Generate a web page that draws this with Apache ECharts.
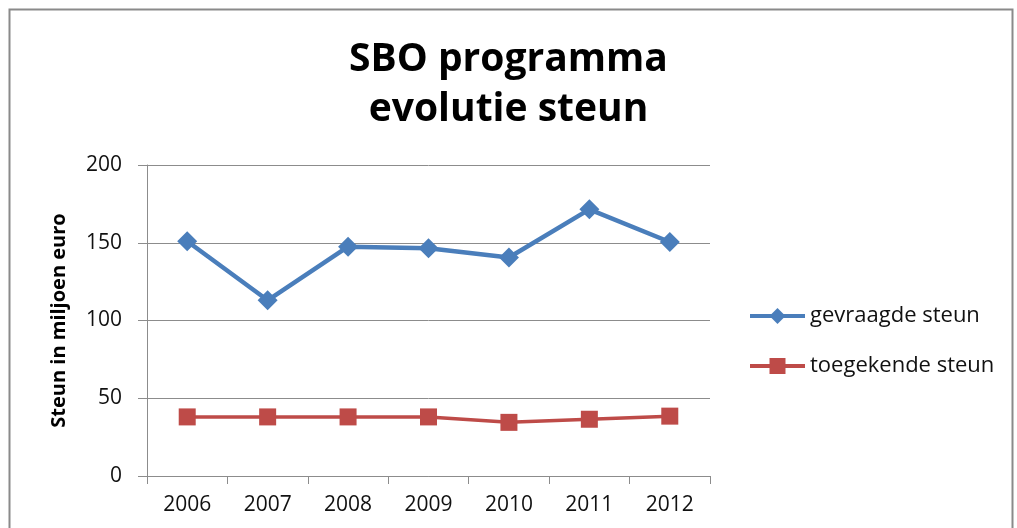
<!DOCTYPE html>
<html><head><meta charset="utf-8">
<script src="https://cdn.jsdelivr.net/npm/echarts@6/dist/echarts.min.js"></script>
<style>html,body{margin:0;padding:0;background:#fff}#c{width:1017px;height:528px}</style>
</head><body><div id="c"></div>
<script>
const categories = ['2006','2007','2008','2009','2010','2011','2012'];
const gevraagd = [151, 113, 147.5, 146.5, 140.5, 171.5, 150.5];
const toegekend = [38, 38, 38, 38, 34.5, 36.5, 38.5];
const seriesNames = ['gevraagde steun','toegekende steun'];
const titleLines = ['SBO programma','evolutie steun'];
const yAxisName = 'Steun in miljoen euro';

const font = '"Open Sans", Lato, sans-serif';
const chart = echarts.init(document.getElementById('c'));
chart.setOption({
  animation: false,
  graphic: [{
    type: 'rect', left: 7, top: 7, shape: {width: 1003, height: 530},
    style: {fill: 'none', stroke: '#8a8a8a', lineWidth: 2}, silent: true
  }],
  title: {
    text: titleLines.join('\n'), left: 'center', top: 30,
    textStyle: {fontFamily: font, fontSize: 39, fontWeight: 'bold', color: '#000', lineHeight: 50}
  },
  legend: {
    orient: 'vertical', left: 743, top: 300, itemGap: 28,
    itemWidth: 55, itemHeight: 20,
    lineStyle: {width: 4},
    textStyle: {fontFamily: font, fontSize: 22, color: '#111'},
    data: seriesNames
  },
  grid: {left: 147, right: 307, top: 165, bottom: 52},
  xAxis: {
    type: 'category', data: categories, boundaryGap: true,
    axisLine: {lineStyle: {color: '#8c8c8c', width: 1}},
    axisTick: {show: true, length: 8, lineStyle: {color: '#8c8c8c'}},
    axisLabel: {fontFamily: font, fontSize: 21, color: '#111', margin: 19}
  },
  yAxis: {
    type: 'value', min: 0, max: 200, interval: 50,
    name: yAxisName, nameLocation: 'middle', nameGap: 78, nameRotate: 90,
    nameTextStyle: {fontFamily: font, fontSize: 20, fontWeight: 'bold', color: '#000'},
    axisLine: {show: true, lineStyle: {color: '#8c8c8c'}},
    axisTick: {show: true, length: 9, lineStyle: {color: '#8c8c8c'}},
    axisLabel: {fontFamily: font, fontSize: 21, color: '#111', margin: 25},
    splitLine: {lineStyle: {color: '#8c8c8c', width: 1}}
  },
  series: [{
    name: seriesNames[0], type: 'line', data: gevraagd,
    symbol: 'diamond', symbolSize: 20,
    lineStyle: {color: '#4a7ebb', width: 4.5},
    itemStyle: {color: '#4a7ebb'}
  }, {
    name: seriesNames[1], type: 'line', data: toegekend,
    symbol: 'rect', symbolSize: 17,
    lineStyle: {color: '#be4b48', width: 3.5},
    itemStyle: {color: '#be4b48'}
  }]
});
</script></body></html>
